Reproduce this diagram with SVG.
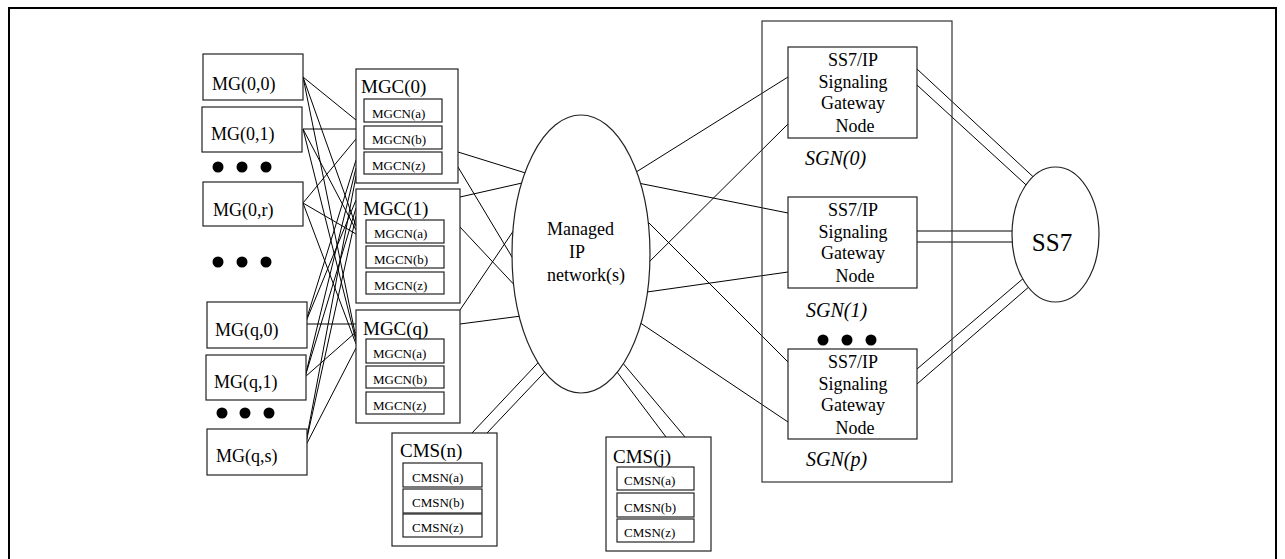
<svg xmlns="http://www.w3.org/2000/svg" width="1285" height="559" viewBox="0 0 1285 559">
<style>
.box{fill:#fff;stroke:#222;stroke-width:1.2}
.frame{fill:none;stroke:#000;stroke-width:2}
.cont{fill:none;stroke:#333;stroke-width:1.2}
.ln{stroke:#000;stroke-width:1;fill:none}
.t{font-family:"Liberation Serif","Times New Roman",serif;fill:#000}
.mg{font-size:18px}
.mgc{font-size:19px}
.sm{font-size:13px}
.sg{font-size:18px;text-anchor:middle}
.it{font-size:20px;font-style:italic}
.dot{fill:#000}
.ell{fill:#fff;stroke:#222;stroke-width:1.2}
</style>
<rect class="frame" x="9" y="8" width="1267" height="570"/>
<g id="connectors">
<!-- MG to MGC mesh -->
<path class="ln" d="M303,77L356,120M303,77L356,226M303,77L356,338"/>
<path class="ln" d="M303,129L356,129M303,129L356,230M303,129L356,341"/>
<path class="ln" d="M303,203L356,139M303,203L356,234M303,203L356,344"/>
<path class="ln" d="M305,324L356,160M305,324L356,200M305,324L356,324"/>
<path class="ln" d="M305,377L356,168M305,377L356,208M305,377L356,332"/>
<path class="ln" d="M305,447L356,176M305,447L356,216M305,447L356,348"/>
<!-- MGC to IP network -->
<path class="ln" d="M458,152L532,175M458,167L518,267M460,197L531,181M460,227L520,291M460,310L518,224M460,324L529,315"/>
<!-- CMS to IP network -->
<path class="ln" d="M472,433L550,350M487,433L558,358"/>
<path class="ln" d="M666,437L605,356M685,437L611,349"/>
<!-- IP network to SGN -->
<path class="ln" d="M625,179L788,77M628,181L788,213M636,275L788,124M634,208L788,362M633,294L788,272M627,314L788,422"/>
<!-- SGN to SS7 -->
<path class="ln" d="M917,69L1042,185M917,85L1036,194M917,231L1025,231M917,242L1025,242M917,369L1032,271M917,384L1038,279"/>
</g>
<g id="ip-network">
<ellipse class="ell" cx="581" cy="254" rx="69" ry="139"/>
<text class="t" x="547" y="235" style="font-size:18px">Managed</text>
<text class="t" x="569" y="258" style="font-size:18px">IP</text>
<text class="t" x="547" y="281" style="font-size:18px">network(s)</text>
</g>
<g id="mg00"><rect class="box" x="203" y="54" width="100" height="46"/><text class="t mg" x="212" y="90">MG(0,0)</text></g>
<g id="mg01"><rect class="box" x="202" y="107" width="100" height="45"/><text class="t mg" x="211" y="140">MG(0,1)</text></g>
<g id="dots1"><circle class="dot" cx="218" cy="167" r="5.5"/><circle class="dot" cx="242" cy="167" r="5.5"/><circle class="dot" cx="266" cy="167" r="5.5"/></g>
<g id="mg0r"><rect class="box" x="203" y="182" width="100" height="44"/><text class="t mg" x="213" y="216">MG(0,r)</text></g>
<g id="dots2"><circle class="dot" cx="218" cy="262" r="5.5"/><circle class="dot" cx="242" cy="262" r="5.5"/><circle class="dot" cx="266" cy="262" r="5.5"/></g>
<g id="mgq0"><rect class="box" x="207" y="302" width="100" height="46"/><text class="t mg" x="215" y="336">MG(q,0)</text></g>
<g id="mgq1"><rect class="box" x="206" y="355" width="100" height="45"/><text class="t mg" x="214" y="388">MG(q,1)</text></g>
<g id="dots3"><circle class="dot" cx="222" cy="413" r="5.5"/><circle class="dot" cx="245" cy="413" r="5.5"/><circle class="dot" cx="269" cy="413" r="5.5"/></g>
<g id="mgqs"><rect class="box" x="207" y="429" width="100" height="46"/><text class="t mg" x="216" y="462">MG(q,s)</text></g>
<g id="mgc0">
<rect class="box" x="356" y="69" width="102" height="114"/>
<text class="t mgc" x="361" y="93">MGC(0)</text>
<rect class="box" x="364" y="99" width="78" height="23"/><text class="t sm" x="372" y="118">MGCN(a)</text>
<rect class="box" x="364" y="126" width="78" height="23"/><text class="t sm" x="372" y="144">MGCN(b)</text>
<rect class="box" x="364" y="152" width="78" height="22"/><text class="t sm" x="372" y="170">MGCN(z)</text>
</g>
<g id="mgc1">
<rect class="box" x="356" y="189" width="104" height="114"/>
<text class="t mgc" x="363" y="215">MGC(1)</text>
<rect class="box" x="366" y="220" width="78" height="23"/><text class="t sm" x="374" y="238">MGCN(a)</text>
<rect class="box" x="366" y="246" width="78" height="22"/><text class="t sm" x="374" y="264">MGCN(b)</text>
<rect class="box" x="366" y="272" width="78" height="22"/><text class="t sm" x="374" y="290">MGCN(z)</text>
</g>
<g id="mgcq">
<rect class="box" x="356" y="310" width="104" height="113"/>
<text class="t mgc" x="363" y="335">MGC(q)</text>
<rect class="box" x="366" y="339" width="78" height="24"/><text class="t sm" x="373" y="358">MGCN(a)</text>
<rect class="box" x="366" y="366" width="78" height="22"/><text class="t sm" x="373" y="384">MGCN(b)</text>
<rect class="box" x="366" y="392" width="78" height="22"/><text class="t sm" x="373" y="410">MGCN(z)</text>
</g>
<g id="cmsn">
<rect class="box" x="392" y="433" width="105" height="113"/>
<text class="t mgc" x="400" y="457">CMS(n)</text>
<rect class="box" x="403" y="463" width="79" height="24"/><text class="t sm" x="412" y="482">CMSN(a)</text>
<rect class="box" x="403" y="489" width="79" height="24"/><text class="t sm" x="412" y="507">CMSN(b)</text>
<rect class="box" x="403" y="514" width="79" height="23"/><text class="t sm" x="412" y="532">CMSN(z)</text>
</g>
<g id="cmsj">
<rect class="box" x="606" y="437" width="105" height="114"/>
<text class="t mgc" x="613" y="463">CMS(j)</text>
<rect class="box" x="617" y="467" width="77" height="23"/><text class="t sm" x="624" y="485">CMSN(a)</text>
<rect class="box" x="617" y="493" width="77" height="24"/><text class="t sm" x="624" y="512">CMSN(b)</text>
<rect class="box" x="617" y="519" width="77" height="23"/><text class="t sm" x="624" y="537">CMSN(z)</text>
</g>
<g id="sgn-group"><rect class="cont" x="762" y="21" width="190" height="461"/></g>
<g id="sgn0">
<rect class="box" x="788" y="47" width="129" height="91"/>
<text class="t sg" x="853" y="66">SS7/IP</text>
<text class="t sg" x="853" y="87.5">Signaling</text>
<text class="t sg" x="853" y="109">Gateway</text>
<text class="t sg" x="855" y="131.5">Node</text>
<text class="t it" x="805" y="165">SGN(0)</text>
</g>
<g id="sgn1">
<rect class="box" x="788" y="197" width="129" height="91"/>
<text class="t sg" x="853" y="216">SS7/IP</text>
<text class="t sg" x="853" y="237.5">Signaling</text>
<text class="t sg" x="853" y="259">Gateway</text>
<text class="t sg" x="855" y="281.5">Node</text>
<text class="t it" x="806" y="317">SGN(1)</text>
</g>
<g id="dots4"><circle class="dot" cx="823" cy="340" r="5.5"/><circle class="dot" cx="847" cy="340" r="5.5"/><circle class="dot" cx="871" cy="340" r="5.5"/></g>
<g id="sgnp">
<rect class="box" x="788" y="349" width="129" height="90"/>
<text class="t sg" x="853" y="368">SS7/IP</text>
<text class="t sg" x="853" y="389.5">Signaling</text>
<text class="t sg" x="853" y="411">Gateway</text>
<text class="t sg" x="855" y="433.5">Node</text>
<text class="t it" x="806" y="466">SGN(p)</text>
</g>
<g id="ss7">
<ellipse class="ell" cx="1055.5" cy="234.5" rx="43.5" ry="67.5"/>
<text class="t" x="1052" y="251" style="font-size:25px;text-anchor:middle">SS7</text>
</g>
</svg>
